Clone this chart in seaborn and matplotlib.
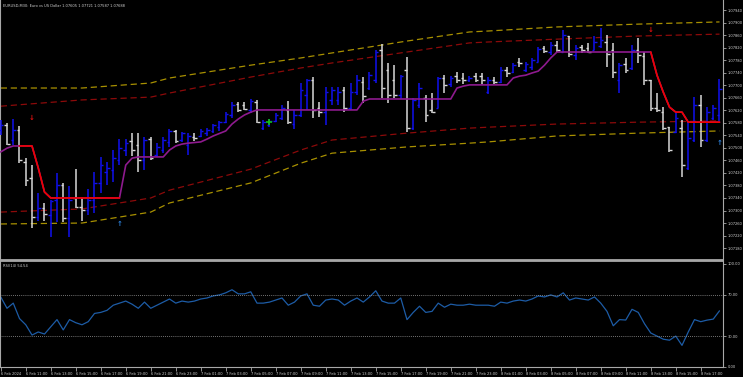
import numpy as np
import matplotlib
matplotlib.use("Agg")
import matplotlib.pyplot as plt
import seaborn as sns

TITLE = "EURUSD,M30: Euro vs US Dollar 1.07605 1.07721 1.07587 1.07688"
RSI_TITLE = "RSI(14) 54.54"

# M30 bars, 6 Feb 09:00 -> 8 Feb 18:30
opens = [
    1.07557, 1.07573, 1.07525, 1.07557, 1.07455, 1.07404, 1.07279, 1.07308, 1.07285, 1.07333,
    1.07381, 1.07276, 1.07340, 1.07311, 1.07301, 1.07333, 1.07388, 1.07423, 1.07429, 1.07461,
    1.07493, 1.07522, 1.07509, 1.07461, 1.07528, 1.07477, 1.07493, 1.07519, 1.07554, 1.07525,
    1.07509, 1.07535, 1.07538, 1.07547, 1.07554, 1.07566, 1.07582, 1.07605, 1.07640, 1.07637,
    1.07621, 1.07646, 1.07563, 1.07573, 1.07586, 1.07595, 1.07621, 1.07576, 1.07605, 1.07669,
    1.07717, 1.07627, 1.07614, 1.07653, 1.07653, 1.07685, 1.07627, 1.07678, 1.07710, 1.07691,
    1.07717, 1.07812, 1.07748, 1.07717, 1.07669, 1.07748, 1.07563, 1.07637, 1.07659, 1.07621,
    1.07627, 1.07723, 1.07704, 1.07729, 1.07723, 1.07717, 1.07729, 1.07729, 1.07678, 1.07717,
    1.07710, 1.07748, 1.07742, 1.07774, 1.07748, 1.07758, 1.07774, 1.07819, 1.07806, 1.07828,
    1.07806, 1.07857, 1.07796, 1.07822, 1.07819, 1.07812, 1.07825, 1.07838, 1.07812, 1.07717,
    1.07768, 1.07755, 1.07812, 1.07793, 1.07717, 1.07627, 1.07614, 1.07566, 1.07550, 1.07563,
    1.07436, 1.07525, 1.07637, 1.07525, 1.07595, 1.07605,
]
highs = [
    1.07589, 1.07579, 1.07592, 1.07570, 1.07467, 1.07445, 1.07356, 1.07324, 1.07333, 1.07420,
    1.07388, 1.07378, 1.07432, 1.07343, 1.07369, 1.07423, 1.07471, 1.07455, 1.07493, 1.07528,
    1.07528, 1.07547, 1.07547, 1.07535, 1.07535, 1.07515, 1.07535, 1.07560, 1.07557, 1.07550,
    1.07547, 1.07547, 1.07560, 1.07563, 1.07576, 1.07586, 1.07614, 1.07646, 1.07646, 1.07646,
    1.07656, 1.07653, 1.07589, 1.07592, 1.07611, 1.07637, 1.07649, 1.07621, 1.07707, 1.07720,
    1.07726, 1.07646, 1.07694, 1.07694, 1.07694, 1.07694, 1.07707, 1.07732, 1.07726, 1.07742,
    1.07812, 1.07832, 1.07771, 1.07764, 1.07732, 1.07790, 1.07659, 1.07707, 1.07669, 1.07675,
    1.07726, 1.07732, 1.07729, 1.07742, 1.07739, 1.07729, 1.07739, 1.07739, 1.07726, 1.07726,
    1.07758, 1.07758, 1.07771, 1.07787, 1.07774, 1.07787, 1.07822, 1.07825, 1.07838, 1.07841,
    1.07876, 1.07857, 1.07828, 1.07828, 1.07835, 1.07857, 1.07883, 1.07860, 1.07835, 1.07771,
    1.07787, 1.07828, 1.07851, 1.07806, 1.07717, 1.07675, 1.07630, 1.07566, 1.07611, 1.07589,
    1.07582, 1.07662, 1.07669, 1.07630, 1.07637, 1.07721,
]
lows = [
    1.07541, 1.07509, 1.07509, 1.07451, 1.07378, 1.07244, 1.07266, 1.07266, 1.07215, 1.07263,
    1.07263, 1.07215, 1.07308, 1.07266, 1.07285, 1.07292, 1.07356, 1.07381, 1.07391, 1.07445,
    1.07474, 1.07474, 1.07423, 1.07429, 1.07461, 1.07471, 1.07483, 1.07503, 1.07515, 1.07519,
    1.07477, 1.07522, 1.07535, 1.07538, 1.07547, 1.07554, 1.07579, 1.07595, 1.07614, 1.07621,
    1.07611, 1.07579, 1.07557, 1.07566, 1.07582, 1.07589, 1.07576, 1.07560, 1.07598, 1.07621,
    1.07595, 1.07598, 1.07573, 1.07637, 1.07637, 1.07614, 1.07621, 1.07669, 1.07643, 1.07685,
    1.07707, 1.07659, 1.07643, 1.07659, 1.07656, 1.07550, 1.07557, 1.07627, 1.07582, 1.07611,
    1.07627, 1.07675, 1.07694, 1.07707, 1.07704, 1.07710, 1.07710, 1.07704, 1.07672, 1.07704,
    1.07707, 1.07726, 1.07739, 1.07758, 1.07742, 1.07748, 1.07774, 1.07803, 1.07796, 1.07806,
    1.07806, 1.07790, 1.07780, 1.07803, 1.07803, 1.07812, 1.07819, 1.07758, 1.07723, 1.07675,
    1.07739, 1.07748, 1.07771, 1.07701, 1.07618, 1.07614, 1.07557, 1.07487, 1.07547, 1.07407,
    1.07429, 1.07519, 1.07503, 1.07519, 1.07589, 1.07587,
]
closes = [
    1.07573, 1.07512, 1.07557, 1.07461, 1.07397, 1.07279, 1.07308, 1.07289, 1.07330, 1.07381,
    1.07276, 1.07333, 1.07311, 1.07301, 1.07333, 1.07388, 1.07445, 1.07436, 1.07467, 1.07499,
    1.07515, 1.07493, 1.07461, 1.07525, 1.07467, 1.07503, 1.07525, 1.07554, 1.07522, 1.07547,
    1.07538, 1.07531, 1.07554, 1.07557, 1.07573, 1.07582, 1.07608, 1.07637, 1.07621, 1.07624,
    1.07649, 1.07582, 1.07582, 1.07586, 1.07605, 1.07627, 1.07582, 1.07605, 1.07685, 1.07717,
    1.07621, 1.07614, 1.07678, 1.07685, 1.07678, 1.07627, 1.07678, 1.07717, 1.07665, 1.07732,
    1.07806, 1.07691, 1.07669, 1.07669, 1.07729, 1.07563, 1.07653, 1.07691, 1.07605, 1.07614,
    1.07723, 1.07701, 1.07723, 1.07717, 1.07717, 1.07723, 1.07717, 1.07717, 1.07717, 1.07710,
    1.07748, 1.07739, 1.07764, 1.07771, 1.07768, 1.07780, 1.07815, 1.07809, 1.07828, 1.07812,
    1.07860, 1.07800, 1.07819, 1.07812, 1.07806, 1.07838, 1.07844, 1.07800, 1.07742, 1.07764,
    1.07748, 1.07812, 1.07796, 1.07717, 1.07627, 1.07621, 1.07563, 1.07493, 1.07595, 1.07445,
    1.07531, 1.07637, 1.07525, 1.07614, 1.07627, 1.07688,
]

# trailing trend line and its state (1 = falling, drawn red)
trend_line = [
    1.07487, 1.07499, 1.07506, 1.07506, 1.07506, 1.07506, 1.07436, 1.07359, 1.07340, 1.07340,
    1.07340, 1.07340, 1.07340, 1.07340, 1.07340, 1.07340, 1.07340, 1.07340, 1.07340, 1.07340,
    1.07445, 1.07467, 1.07471, 1.07471, 1.07471, 1.07471, 1.07471, 1.07493, 1.07506, 1.07512,
    1.07515, 1.07517, 1.07519, 1.07528, 1.07538, 1.07546, 1.07554, 1.07576, 1.07592, 1.07605,
    1.07614, 1.07621, 1.07621, 1.07621, 1.07621, 1.07621, 1.07621, 1.07621, 1.07621, 1.07621,
    1.07621, 1.07621, 1.07621, 1.07621, 1.07621, 1.07621, 1.07621, 1.07621, 1.07649, 1.07656,
    1.07656, 1.07656, 1.07656, 1.07656, 1.07656, 1.07656, 1.07656, 1.07656, 1.07656, 1.07656,
    1.07656, 1.07656, 1.07656, 1.07691, 1.07697, 1.07701, 1.07701, 1.07701, 1.07701, 1.07701,
    1.07701, 1.07701, 1.07723, 1.07729, 1.07732, 1.07739, 1.07745, 1.07764, 1.07787, 1.07806,
    1.07806, 1.07806, 1.07806, 1.07806, 1.07806, 1.07806, 1.07806, 1.07806, 1.07806, 1.07806,
    1.07806, 1.07806, 1.07806, 1.07806, 1.07806, 1.07732, 1.07678, 1.07630, 1.07614, 1.07614,
    1.07582, 1.07582, 1.07582, 1.07582, 1.07582, 1.07582,
]
trend_down = [
    0, 0, 0, 0, 1, 1, 1, 1, 1, 1, 1, 1, 1, 1, 1, 1, 1, 1, 1, 1,
    0, 0, 0, 0, 0, 0, 0, 0, 0, 0, 0, 0, 0, 0, 0, 0, 0, 0, 0, 0,
    0, 0, 0, 0, 0, 0, 0, 0, 0, 0, 0, 0, 0, 0, 0, 0, 0, 0, 0, 0,
    0, 0, 0, 0, 0, 0, 0, 0, 0, 0, 0, 0, 0, 0, 0, 0, 0, 0, 0, 0,
    0, 0, 0, 0, 0, 0, 0, 0, 0, 0, 0, 0, 0, 0, 0, 0, 0, 0, 0, 0,
    0, 0, 0, 0, 0, 1, 1, 1, 1, 1, 1, 1, 1, 1, 1, 1,
]

# envelope bands, read at these bars
band_bars = [0, 13, 24, 27, 40, 48, 53, 65, 75, 78, 89, 102, 115]
upper_outer = [1.07691, 1.07691, 1.07707, 1.07723, 1.07764, 1.07787, 1.07803,
               1.07841, 1.07870, 1.07873, 1.07886, 1.07895, 1.07902]
upper_inner = [1.07633, 1.07653, 1.07662, 1.07675, 1.07726, 1.07755, 1.07771,
               1.07806, 1.07835, 1.07838, 1.07847, 1.07857, 1.07863]
lower_inner = [1.07295, 1.07305, 1.07340, 1.07365, 1.07432, 1.07493, 1.07525,
               1.07547, 1.07563, 1.07566, 1.07576, 1.07582, 1.07586]
lower_outer = [1.07257, 1.07260, 1.07295, 1.07324, 1.07388, 1.07451, 1.07483,
               1.07503, 1.07515, 1.07519, 1.07538, 1.07547, 1.07554]

# signal arrows
sell_bars = [5, 104]
sell_prices = [1.07595, 1.07876]
buy_bars = [19, 115]
buy_prices = [1.07257, 1.07515]
cross_bars = [43]
cross_prices = [1.07582]

rsi = [
    68, 57, 62, 47, 41, 31, 34, 32, 39, 46,
    36, 46, 43, 41, 44, 52, 53, 55, 60, 62,
    64, 61, 57, 63, 57, 60, 63, 66, 62, 64,
    63, 64, 66, 67, 69, 70, 72, 75, 71, 71,
    73, 62, 62, 63, 65, 67, 60, 63, 69, 71,
    60, 59, 65, 66, 65, 60, 64, 67, 63, 68,
    74, 64, 62, 62, 67, 46, 53, 59, 53, 54,
    62, 58, 61, 60, 60, 61, 60, 60, 60, 59,
    63, 62, 64, 65, 64, 66, 69, 68, 70, 68,
    72, 65, 67, 66, 65, 68, 62, 54, 40, 46,
    45.6, 56, 53, 42, 33, 30, 27, 26, 30, 21,
    34, 46, 44, 45.5, 46.5, 54.54,
]
rsi_levels = [30, 70]

time_labels = [
    "6 Feb 2024", "6 Feb 11:00", "6 Feb 13:00", "6 Feb 15:00", "6 Feb 17:00",
    "6 Feb 19:00", "6 Feb 21:00", "6 Feb 23:00", "7 Feb 01:00", "7 Feb 03:00",
    "7 Feb 05:00", "7 Feb 07:00", "7 Feb 09:00", "7 Feb 11:00", "7 Feb 13:00",
    "7 Feb 15:00", "7 Feb 17:00", "7 Feb 19:00", "7 Feb 21:00", "7 Feb 23:00",
    "8 Feb 01:00", "8 Feb 03:00", "8 Feb 05:00", "8 Feb 07:00", "8 Feb 09:00",
    "8 Feb 11:00", "8 Feb 13:00", "8 Feb 15:00", "8 Feb 17:00",
]
price_ticks = [1.07180, 1.07220, 1.07260, 1.07300, 1.07340, 1.07380, 1.07420, 1.07460,
               1.07500, 1.07540, 1.07580, 1.07620, 1.07660, 1.07700, 1.07740, 1.07780,
               1.07820, 1.07860, 1.07900, 1.07940]
rsi_ticks = [0, 30, 70, 100]

BG = "black"
AXIS = "#a8a8a8"
TXT = "#d0d0d0"
BULL = "#1010f0"
BEAR = "#d8d8d8"
PURPLE = "#8e1a8e"
RED = "#f00000"
GOLD = "#a89000"
DARKRED = "#8c0a0a"
FS = 2.6

sns.set_style("dark", {"axes.facecolor": BG, "figure.facecolor": BG})
plt.rcParams["font.family"] = ["DejaVu Sans"]

PX_W, PX_H = 743, 377


def box(x0, y0, x1, y1):
    return [x0 / PX_W, 1 - y1 / PX_H, (x1 - x0) / PX_W, (y1 - y0) / PX_H]


fig = plt.figure(figsize=(PX_W / 100, PX_H / 100), dpi=100, facecolor=BG)
ax = fig.add_axes(box(0, 0, 723, 260))
ax_rsi = fig.add_axes(box(0, 261, 723, 367), sharex=ax)

bars = np.arange(len(opens))
o, h, l, c = map(np.array, (opens, highs, lows, closes))
colors = np.where(c > o, BULL, BEAR)

# bands
for vals, col in [(upper_outer, GOLD), (lower_outer, GOLD),
                  (upper_inner, DARKRED), (lower_inner, DARKRED)]:
    sns.lineplot(x=band_bars, y=vals, ax=ax, color=col, linewidth=0.9,
                 linestyle=(0, (5, 3)), zorder=1)

# OHLC bars
ax.vlines(bars, l, h, colors=colors, linewidth=1.1, zorder=3)
ax.hlines(o, bars - 0.42, bars, colors=colors, linewidth=1.0, zorder=3)
ax.hlines(c, bars, bars + 0.42, colors=colors, linewidth=1.0, zorder=3)

# trend line, purple when rising and red when falling
tl = np.array(trend_line)
down = np.array(trend_down, dtype=bool)
red_mask = down | np.append(down[1:], False)
sns.lineplot(x=bars, y=tl, ax=ax, color=PURPLE, linewidth=1.2, zorder=4)
ax.plot(bars, np.where(red_mask, tl, np.nan), color=RED, linewidth=1.2, zorder=5)

# signals
for b, p in zip(sell_bars, sell_prices):
    ax.text(b, p, "\u2193", color="#e01010", fontsize=5, ha="center", va="center",
            fontweight="bold", zorder=6)
for b, p in zip(buy_bars, buy_prices):
    ax.text(b, p, "\u2191", color="#2a7fd8", fontsize=5, ha="center", va="center",
            fontweight="bold", zorder=6)
ax.scatter(cross_bars, cross_prices, marker="+", s=22, color="#10c010", linewidths=1.2, zorder=6)

ax.set_xlim(-0.12, 115.56)
ax.set_ylim(1.07142, 1.07972)
ax.yaxis.tick_right()
ax.set_yticks(price_ticks)
ax.set_yticklabels([f"{p:.5f}" for p in price_ticks])
ax.tick_params(axis="y", direction="out", length=2, width=0.6, color=AXIS,
               labelsize=FS, labelcolor=TXT, pad=1.5)
ax.tick_params(axis="x", bottom=False, labelbottom=False)
ax.set_xlabel("")
ax.set_ylabel("")
ax.grid(False)
for side, sp in ax.spines.items():
    sp.set_visible(side != "top")
    sp.set_color(AXIS)
    sp.set_linewidth(0.8)
ax.spines["bottom"].set_linewidth(1.3)

# RSI panel
sns.lineplot(x=bars, y=rsi, ax=ax_rsi, color="#1d5ca6", linewidth=0.9)
for lv in rsi_levels:
    ax_rsi.axhline(lv, color="#9a9a9a", linewidth=0.6, linestyle=(0, (1, 1.5)))
ax_rsi.set_ylim(0, 102.9)
ax_rsi.yaxis.tick_right()
ax_rsi.set_yticks(rsi_ticks)
ax_rsi.set_yticklabels([f"{v:.2f}" for v in rsi_ticks])
ax_rsi.tick_params(axis="y", direction="out", length=2, width=0.6, color=AXIS,
                   labelsize=FS, labelcolor=TXT, pad=1.5)
ax_rsi.set_xticks(bars[::4])
ax_rsi.set_xticklabels(time_labels)
ax_rsi.tick_params(axis="x", direction="out", length=3, width=0.6, color=AXIS,
                   labelsize=FS, labelcolor=TXT, pad=0.8, bottom=True, labelbottom=True)
for lbl in ax_rsi.get_xticklabels():
    lbl.set_horizontalalignment("left")
ax_rsi.set_xlabel("")
ax_rsi.set_ylabel("")
ax_rsi.grid(False)
for side, sp in ax_rsi.spines.items():
    sp.set_color(AXIS)
    sp.set_linewidth(0.8)
ax_rsi.spines["top"].set_linewidth(1.3)
ax.set_xlim(-0.12, 115.56)

fig.text(3 / PX_W, 1 - 6 / PX_H, TITLE, fontsize=FS, color=TXT, va="center", ha="left")
fig.text(3 / PX_W, 1 - 266 / PX_H, RSI_TITLE, fontsize=FS, color=TXT, va="center", ha="left")

fig.savefig("out.png", dpi=100, facecolor=BG)
